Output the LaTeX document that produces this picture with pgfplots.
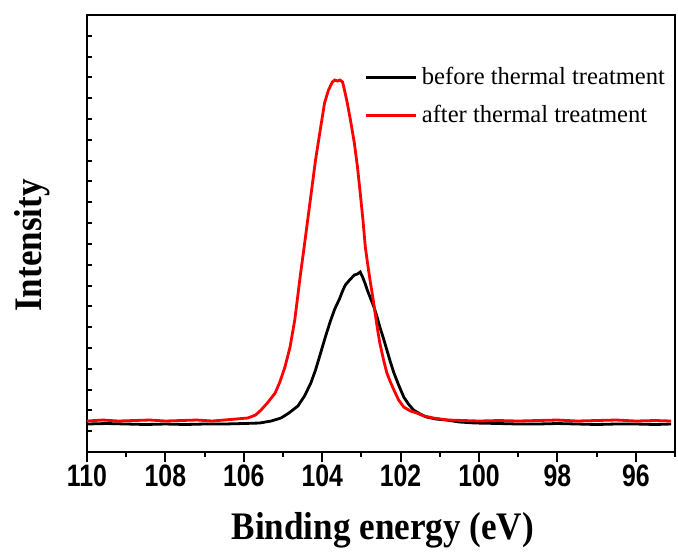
\documentclass[border=0pt]{standalone}
\usepackage{fontspec}
\setmainfont{Liberation Serif}
\newfontfamily\arialfont[FakeStretch=0.8]{Liberation Sans}
\newfontfamily\labelfont[FakeStretch=0.9]{Liberation Serif}
\usepackage{pgfplots}
\pgfplotsset{compat=1.18}

\begin{document}
\begin{tikzpicture}
\useasboundingbox (-43.5pt,-51pt) rectangle (295.5pt,226pt);
\begin{axis}[at={(0,0)},anchor=south west,scale only axis,width=294pt,height=218.5pt,
  x dir=reverse,xmin=95,xmax=110,ymin=0,ymax=437,
  xtick={96,98,...,110},minor xtick={95,97,...,109},
  ytick={0,437},yticklabel={\relax},major y tick style={draw=none},
  minor ytick={20.81,41.62,...,430},
  xtick pos=bottom,ytick pos=left,
  tick align=outside,ytick align=inside,major tick length=5pt,minor tick length=2.5pt,
  tick style={black,line width=1pt},
  axis line style={line width=1.3pt},
  /pgf/number format/assume math mode=true,
  xticklabel style={font=\arialfont\bfseries\fontsize{15.5}{15.5}\selectfont,yshift=2pt},
  xlabel={Binding energy (eV)},ylabel={Intensity},
  label style={font=\labelfont\bfseries\fontsize{19.5}{19.5}\selectfont},
  xlabel style={at={(axis description cs:0.503,-0.178)},anchor=center},
  ylabel style={at={(axis description cs:-0.0935,0.4725)},anchor=center},
  legend style={draw=none,fill=none,at={(rel axis cs:0.462,0.9)},anchor=north west,
    font=\fontsize{12.3}{12.3}\selectfont,row sep=5pt},
  legend cell align=left,
  legend image code/.code={\draw[#1] (0pt,0pt) -- (25pt,0pt);}]
\addplot[black,line width=1.4pt] coordinates {
(110,28) (109.5,28.5) (109,28) (108.5,27.5) (108,28) (107.5,27.5) (107,28) (106.5,28) (106,28.5)
(105.6,29) (105.3,31) (105.05,34) (104.85,39) (104.62,46) (104.45,56) (104.29,69) (104.17,82)
(104.04,99) (103.92,115) (103.79,131) (103.68,143) (103.56,153) (103.48,161) (103.41,167)
(103.3,172) (103.18,177) (103.1,178) (103.03,180) (102.97,175) (102.9,168) (102.85,162)
(102.76,153) (102.68,145) (102.6,135) (102.53,125) (102.44,114) (102.35,102) (102.26,90)
(102.17,79) (102.05,67) (101.92,55) (101.8,48) (101.67,42) (101.5,38) (101.34,35) (101.1,33)
(100.83,32) (100.5,30) (100.1,29) (99.5,28.5) (99,28) (98.5,28) (98,28.5) (97.5,28) (97,27.5)
(96.5,28) (96,28) (95.5,27.5) (95.1,28)};
\addlegendentry{before thermal treatment}
\addplot[red,line width=1.4pt] coordinates {
(110,31) (109.6,32) (109.2,31) (108.8,31.5) (108.4,32) (108,31) (107.6,31.5) (107.2,32) (106.8,31)
(106.5,32) (106.2,33) (105.9,34) (105.7,37) (105.56,42) (105.4,49) (105.2,59) (105.08,70)
(104.95,85) (104.82,105) (104.7,132) (104.55,179) (104.46,205) (104.37,232) (104.27,262)
(104.17,292) (104.05,322) (103.94,349) (103.84,362) (103.74,370) (103.68,372) (103.61,371)
(103.55,372) (103.48,370) (103.42,360) (103.36,349) (103.27,330) (103.18,309) (103.1,285)
(103.03,259) (102.96,232) (102.9,205) (102.84,188) (102.78,172) (102.71,155) (102.65,139)
(102.59,123) (102.53,109) (102.44,93) (102.35,79) (102.26,70) (102.17,62) (102.05,52)
(101.92,45) (101.75,41) (101.59,39) (101.4,36) (101.16,34) (100.8,32) (100.4,31.5) (100,31)
(99.5,31.5) (99,31) (98.5,31.5) (98,32) (97.5,31) (97,31.5) (96.5,32) (96,31) (95.5,31.5) (95.1,31)};
\addlegendentry{after thermal treatment}
\end{axis}
\end{tikzpicture}
\end{document}
